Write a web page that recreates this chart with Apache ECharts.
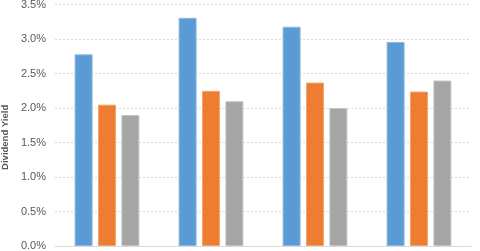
<!DOCTYPE html>
<html><head><meta charset="utf-8">
<script src="https://cdn.jsdelivr.net/npm/echarts@6/dist/echarts.min.js"></script>
<style>html,body{margin:0;padding:0;background:#fff}#c{width:480px;height:251px}</style>
</head><body><div id="c"></div>
<script>
const categories = ["A", "B", "C", "D"];
const series1 = [2.78, 3.31, 3.18, 2.96];
const series2 = [2.05, 2.25, 2.37, 2.24];
const series3 = [1.90, 2.10, 2.00, 2.40];
const yTicks = [0, 0.5, 1.0, 1.5, 2.0, 2.5, 3.0, 3.5];

const colors = ['#5B9BD5', '#ED7D31', '#A5A5A5'];
const borders = ['#8CB9E3', '#F3A36E', '#C4C4C4'];
const chart = echarts.init(document.getElementById('c'));
const mk = (d, i) => ({
  type: 'bar', data: d, barWidth: 18, barGap: '30%',
  itemStyle: {color: colors[i], borderColor: borders[i], borderWidth: 1},
  silent: true
});
chart.setOption({
  animation: false,
  grid: {left: 55, right: 9, top: 4.7, bottom: 5, containLabel: false, outerBoundsMode: 'none'},
  xAxis: {
    type: 'category', data: categories,
    axisLine: {lineStyle: {color: '#D9D9D9'}},
    axisTick: {show: false}, axisLabel: {show: false}
  },
  yAxis: {
    type: 'value', min: yTicks[0], max: yTicks[yTicks.length - 1], interval: 0.5,
    name: 'Dividend Yield', nameLocation: 'middle', nameGap: 35,
    nameTextStyle: {fontFamily: 'Liberation Sans', fontSize: 9.5, fontWeight: 'bold', color: '#595959',
      padding: [0, 24, 0, 0]},
    axisLabel: {fontFamily: 'Liberation Sans', fontSize: 11, color: '#595959', margin: 9,
      formatter: v => v.toFixed(1) + '%'},
    axisLine: {show: false}, axisTick: {show: false},
    splitLine: {lineStyle: {color: '#D9D9D9', type: [2, 2]}}
  },
  series: [mk(series1, 0), mk(series2, 1), mk(series3, 2)]
});
</script></body></html>
